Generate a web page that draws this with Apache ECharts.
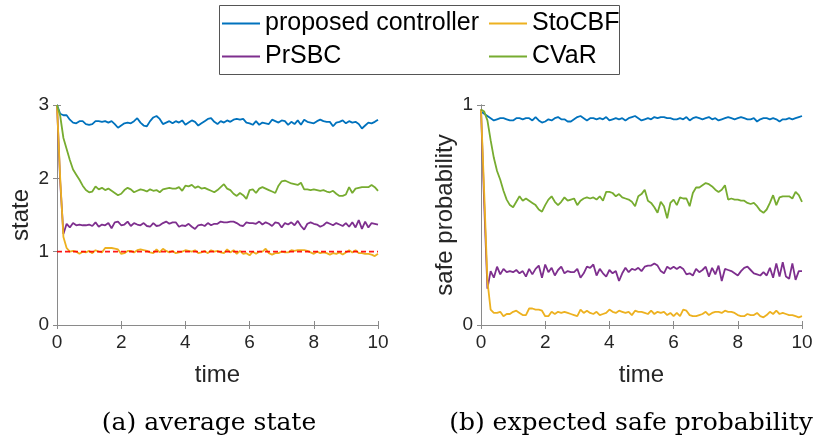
<!DOCTYPE html>
<html>
<head>
<meta charset="utf-8">
<script src="https://cdn.jsdelivr.net/npm/echarts@6/dist/echarts.min.js"></script>
<style>
  html, body { margin: 0; padding: 0; background: #fff; }
  #chart { width: 817px; height: 442px; }
</style>
</head>
<body>
<div id="chart"></div>
<script>
// time grid 0, 0.1, ... 10
const time = Array.from({ length: 101 }, (_, i) => +(i * 0.1).toFixed(1))

// (a) average state
const stateProposed = [3.0, 2.88, 2.86, 2.86, 2.80, 2.76, 2.75, 2.78, 2.78, 2.74,
  2.73, 2.74, 2.78, 2.78, 2.77, 2.78, 2.76, 2.78, 2.74, 2.69,
  2.72, 2.75, 2.76, 2.75, 2.78, 2.82, 2.76, 2.72, 2.71, 2.78,
  2.83, 2.85, 2.81, 2.74, 2.76, 2.78, 2.75, 2.78, 2.76, 2.79,
  2.73, 2.76, 2.79, 2.77, 2.72, 2.75, 2.78, 2.81, 2.82, 2.77,
  2.74, 2.78, 2.76, 2.79, 2.77, 2.80, 2.81, 2.80, 2.81, 2.76,
  2.75, 2.73, 2.78, 2.73, 2.76, 2.75, 2.74, 2.80, 2.78, 2.76,
  2.79, 2.78, 2.73, 2.77, 2.74, 2.79, 2.73, 2.80, 2.77, 2.76,
  2.75, 2.78, 2.80, 2.78, 2.77, 2.77, 2.71, 2.76, 2.77, 2.79,
  2.75, 2.78, 2.76, 2.77, 2.74, 2.68, 2.72, 2.76, 2.75, 2.77, 2.80]
const statePrSBC = [3.0, 1.95, 1.24, 1.38, 1.33, 1.39, 1.36, 1.37, 1.36, 1.36,
  1.37, 1.35, 1.40, 1.34, 1.37, 1.36, 1.39, 1.32, 1.40, 1.41,
  1.36, 1.37, 1.41, 1.35, 1.39, 1.37, 1.36, 1.39, 1.35, 1.34,
  1.39, 1.35, 1.36, 1.39, 1.41, 1.38, 1.40, 1.40, 1.34, 1.36,
  1.35, 1.38, 1.34, 1.31, 1.36, 1.37, 1.35, 1.39, 1.36, 1.38,
  1.38, 1.41, 1.40, 1.40, 1.41, 1.41, 1.39, 1.36, 1.35, 1.40,
  1.39, 1.39, 1.38, 1.41, 1.37, 1.40, 1.38, 1.35, 1.40, 1.39,
  1.33, 1.39, 1.37, 1.40, 1.36, 1.42, 1.35, 1.30, 1.38, 1.40,
  1.38, 1.37, 1.34, 1.36, 1.40, 1.38, 1.36, 1.39, 1.37, 1.35,
  1.39, 1.34, 1.40, 1.33, 1.43, 1.31, 1.41, 1.33, 1.39, 1.38, 1.37]
const stateStoCBF = [3.0, 2.0, 1.20, 1.05, 1.00, 1.01, 1.00, 0.97, 1.00, 0.99,
  1.01, 0.98, 1.02, 1.00, 0.99, 1.05, 1.05, 1.05, 1.04, 1.03,
  0.97, 0.98, 1.01, 1.01, 0.99, 1.02, 1.03, 1.02, 1.01, 0.99,
  0.98, 1.03, 0.99, 1.04, 1.01, 0.99, 1.01, 0.98, 0.99, 1.00,
  1.02, 1.01, 1.00, 1.02, 0.98, 0.99, 1.01, 0.98, 1.02, 1.00,
  1.01, 0.99, 0.98, 1.03, 0.99, 1.02, 0.97, 1.01, 0.97, 0.98,
  0.95, 1.00, 0.97, 1.00, 1.00, 1.04, 0.98, 0.96, 0.98, 0.98,
  1.00, 0.99, 0.99, 1.02, 1.01, 1.02, 1.02, 1.02, 1.01, 0.99,
  0.97, 1.00, 0.98, 0.99, 0.98, 0.96, 0.98, 0.97, 0.99, 0.96,
  0.99, 1.02, 0.99, 1.02, 0.98, 0.98, 0.97, 0.97, 0.96, 0.94, 0.97]
const stateCVaR = [3.0, 2.85, 2.55, 2.40, 2.25, 2.12, 2.05, 1.98, 1.90, 1.84,
  1.81, 1.82, 1.89, 1.85, 1.87, 1.84, 1.86, 1.83, 1.80, 1.77,
  1.79, 1.84, 1.87, 1.85, 1.81, 1.83, 1.85, 1.84, 1.82, 1.85,
  1.83, 1.84, 1.81, 1.85, 1.86, 1.87, 1.86, 1.86, 1.88, 1.83,
  1.90, 1.89, 1.91, 1.87, 1.89, 1.86, 1.87, 1.85, 1.83, 1.81,
  1.84, 1.88, 1.92, 1.86, 1.84, 1.79, 1.76, 1.80, 1.77, 1.72,
  1.84, 1.85, 1.80, 1.86, 1.88, 1.86, 1.84, 1.82, 1.80, 1.90,
  1.96, 1.97, 1.95, 1.93, 1.92, 1.91, 1.94, 1.85, 1.85, 1.84,
  1.85, 1.84, 1.83, 1.84, 1.82, 1.81, 1.83, 1.79, 1.76, 1.76,
  1.78, 1.88, 1.80, 1.86, 1.87, 1.88, 1.88, 1.88, 1.91, 1.88, 1.83]
// dashed reference level
const stateRefX = [0, 10]
const stateRefY = [1, 1]

// (b) expected safe probability
const probProposed = [0.97, 0.96, 0.95, 0.94, 0.93, 0.935, 0.94, 0.94, 0.935, 0.93,
  0.93, 0.94, 0.94, 0.935, 0.94, 0.94, 0.93, 0.945, 0.93, 0.92,
  0.925, 0.935, 0.93, 0.94, 0.945, 0.935, 0.935, 0.925, 0.925, 0.935,
  0.945, 0.95, 0.94, 0.93, 0.94, 0.94, 0.935, 0.94, 0.935, 0.945,
  0.93, 0.935, 0.94, 0.935, 0.94, 0.93, 0.94, 0.945, 0.95, 0.94,
  0.93, 0.935, 0.94, 0.935, 0.945, 0.94, 0.945, 0.945, 0.94, 0.94,
  0.935, 0.935, 0.94, 0.935, 0.945, 0.93, 0.94, 0.945, 0.94, 0.935,
  0.94, 0.945, 0.935, 0.94, 0.93, 0.935, 0.94, 0.945, 0.94, 0.935,
  0.94, 0.945, 0.94, 0.935, 0.935, 0.94, 0.925, 0.935, 0.94, 0.94,
  0.935, 0.94, 0.935, 0.925, 0.935, 0.935, 0.94, 0.935, 0.94, 0.945, 0.95]
const probPrSBC = [0.98, 0.55, 0.165, 0.245, 0.215, 0.265, 0.23, 0.255, 0.24, 0.245,
  0.24, 0.25, 0.235, 0.245, 0.22, 0.255, 0.23, 0.255, 0.27, 0.215,
  0.275, 0.24, 0.26, 0.225, 0.25, 0.265, 0.235, 0.245, 0.24, 0.24,
  0.255, 0.215, 0.235, 0.265, 0.26, 0.275, 0.225, 0.255, 0.235, 0.22,
  0.25, 0.235, 0.245, 0.2, 0.235, 0.26, 0.24, 0.255, 0.25, 0.26,
  0.245, 0.265, 0.27, 0.27, 0.28, 0.27, 0.245, 0.235, 0.265, 0.255,
  0.265, 0.255, 0.265, 0.255, 0.23, 0.235, 0.225, 0.255, 0.24, 0.25,
  0.265, 0.22, 0.26, 0.23, 0.27, 0.2, 0.255, 0.25, 0.245, 0.235,
  0.225, 0.245, 0.26, 0.265, 0.25, 0.235, 0.23, 0.225, 0.24, 0.225,
  0.26, 0.215, 0.28, 0.22, 0.285, 0.22, 0.21, 0.28, 0.205, 0.245, 0.245]
const probStoCBF = [0.98, 0.6, 0.2, 0.07, 0.055, 0.055, 0.06, 0.04, 0.05, 0.05,
  0.06, 0.065, 0.055, 0.045, 0.045, 0.075, 0.075, 0.07, 0.07, 0.065,
  0.04, 0.04, 0.06, 0.05, 0.06, 0.055, 0.06, 0.055, 0.05, 0.045,
  0.04, 0.07, 0.055, 0.065, 0.055, 0.05, 0.06, 0.045, 0.05, 0.055,
  0.07, 0.06, 0.055, 0.065, 0.06, 0.055, 0.06, 0.045, 0.065, 0.06,
  0.06, 0.055, 0.05, 0.065, 0.05, 0.06, 0.055, 0.06, 0.045, 0.055,
  0.04, 0.055, 0.04, 0.07, 0.065, 0.045, 0.04, 0.04, 0.045, 0.05,
  0.06, 0.045, 0.055, 0.06, 0.06, 0.055, 0.065, 0.06, 0.06, 0.055,
  0.045, 0.04, 0.04, 0.05, 0.045, 0.045, 0.055, 0.04, 0.035, 0.045,
  0.06, 0.05, 0.065, 0.05, 0.055, 0.05, 0.045, 0.045, 0.04, 0.035, 0.04]
const probCVaR = [0.98, 0.97, 0.93, 0.84, 0.76, 0.70, 0.66, 0.61, 0.57, 0.545,
  0.535, 0.56, 0.585, 0.565, 0.575, 0.565, 0.555, 0.545, 0.525, 0.515,
  0.545, 0.57, 0.585, 0.56, 0.545, 0.56, 0.58, 0.565, 0.57, 0.575,
  0.545, 0.565, 0.575, 0.58, 0.575, 0.58, 0.57, 0.585, 0.565, 0.605,
  0.605, 0.6, 0.585, 0.595, 0.58, 0.575, 0.57, 0.56, 0.54, 0.585,
  0.595, 0.615, 0.565, 0.555, 0.535, 0.51, 0.56, 0.54, 0.485, 0.555,
  0.57, 0.545, 0.58, 0.575, 0.575, 0.54, 0.6, 0.625, 0.625, 0.635,
  0.645, 0.64, 0.63, 0.615, 0.605, 0.615, 0.635, 0.57, 0.575, 0.57,
  0.57, 0.565, 0.565, 0.555, 0.55, 0.555, 0.54, 0.52, 0.51, 0.525,
  0.555, 0.59, 0.545, 0.58, 0.585, 0.585, 0.585, 0.575, 0.605, 0.59, 0.56]

const names = ['proposed controller', 'PrSBC', 'StoCBF', 'CVaR']
const colors = ['#0072BD', '#7E2F8E', '#EDB120', '#77AC30']

const chart = echarts.init(document.getElementById('chart'))

const pairs = (ys) => ys.map((v, i) => [time[i], v])
const boxColor = '#8a8a8a'
const tickFont = { fontFamily: 'Liberation Sans', fontSize: 19, color: '#262626' }

function xAx(grid, pos) {
  return {
    type: 'value', gridIndex: grid, position: pos, min: 0, max: 10, interval: 2,
    axisLine: { show: true, lineStyle: { color: boxColor } },
    axisTick: { show: true, inside: true, length: 4, lineStyle: { color: boxColor } },
    axisLabel: pos === 'bottom' ? Object.assign({ margin: 8 }, tickFont) : { show: false },
    splitLine: { show: false },
    name: pos === 'bottom' ? 'time' : '',
    nameLocation: 'middle', nameGap: 38,
    nameTextStyle: { fontFamily: 'Liberation Sans', fontSize: 24, color: '#262626' }
  }
}
function yAx(grid, pos, max, interval, name) {
  return {
    type: 'value', gridIndex: grid, position: pos, min: 0, max: max, interval: interval,
    axisLine: { show: true, lineStyle: { color: boxColor } },
    axisTick: { show: true, inside: true, length: 4, lineStyle: { color: boxColor } },
    axisLabel: pos === 'left' ? Object.assign({ margin: 8 }, tickFont) : { show: false },
    splitLine: { show: false },
    name: pos === 'left' ? name : '',
    nameLocation: 'middle', nameGap: 24,
    nameTextStyle: { fontFamily: 'Liberation Sans', fontSize: 24, color: '#262626' }
  }
}

const stateData = [stateProposed, statePrSBC, stateStoCBF, stateCVaR]
const probData = [probProposed, probPrSBC, probStoCBF, probCVaR]
const series = []
stateData.forEach((d, k) => {
  series.push({
    name: names[k], type: 'line', xAxisIndex: 0, yAxisIndex: 0, data: pairs(d),
    showSymbol: false, color: colors[k], lineStyle: { width: 1.8 }, z: 3 + k
  })
})
series.push({
  name: 'ref', type: 'line', xAxisIndex: 0, yAxisIndex: 0,
  data: stateRefX.map((x, i) => [x, stateRefY[i]]),
  showSymbol: false, itemStyle: { color: '#ff0000' },
  lineStyle: { color: '#ff0000', width: 1.6, type: [5, 3], opacity: 0.9 }, z: 10
})
probData.forEach((d, k) => {
  series.push({
    name: names[k], type: 'line', xAxisIndex: 2, yAxisIndex: 2, data: pairs(d),
    showSymbol: false, color: colors[k], lineStyle: { width: 1.8 }, z: 3 + k
  })
})

const legendText = { fontFamily: 'Liberation Sans', fontSize: 25, color: '#000' }
function leg(name, left, top) {
  return {
    data: [name], left: left, top: top, padding: 0, itemWidth: 38, itemHeight: 2,
    itemGap: 0, icon: 'rect', textStyle: legendText, selectedMode: false
  }
}

chart.setOption({
  animation: false,
  grid: [
    { left: 57, top: 105, width: 321, height: 220 },
    { left: 481, top: 105, width: 321, height: 220 }
  ],
  xAxis: [xAx(0, 'bottom'), xAx(0, 'top'), xAx(1, 'bottom'), xAx(1, 'top')],
  yAxis: [yAx(0, 'left', 3, 1, 'state'), yAx(0, 'right', 3, 1), yAx(1, 'left', 1, 1, 'safe probability'), yAx(1, 'right', 1, 1)],
  legend: [
    leg(names[0], 222, 11),
    leg(names[2], 489, 11),
    leg(names[1], 222, 44),
    leg(names[3], 489, 44)
  ],
  graphic: [
    { type: 'rect', shape: { x: 219.5, y: 5.5, width: 400, height: 69 }, style: { fill: 'none', stroke: '#555', lineWidth: 1 } },
    { type: 'text', x: 209, y: 423, style: { text: '(a) average state', font: '25px "DejaVu Serif"', fill: '#000', textAlign: 'center', textVerticalAlign: 'middle' } },
    { type: 'text', x: 631, y: 423, style: { text: '(b) expected safe probability', font: '25px "DejaVu Serif"', fill: '#000', textAlign: 'center', textVerticalAlign: 'middle' } }
  ],
  series: series
})
</script>
</body>
</html>
